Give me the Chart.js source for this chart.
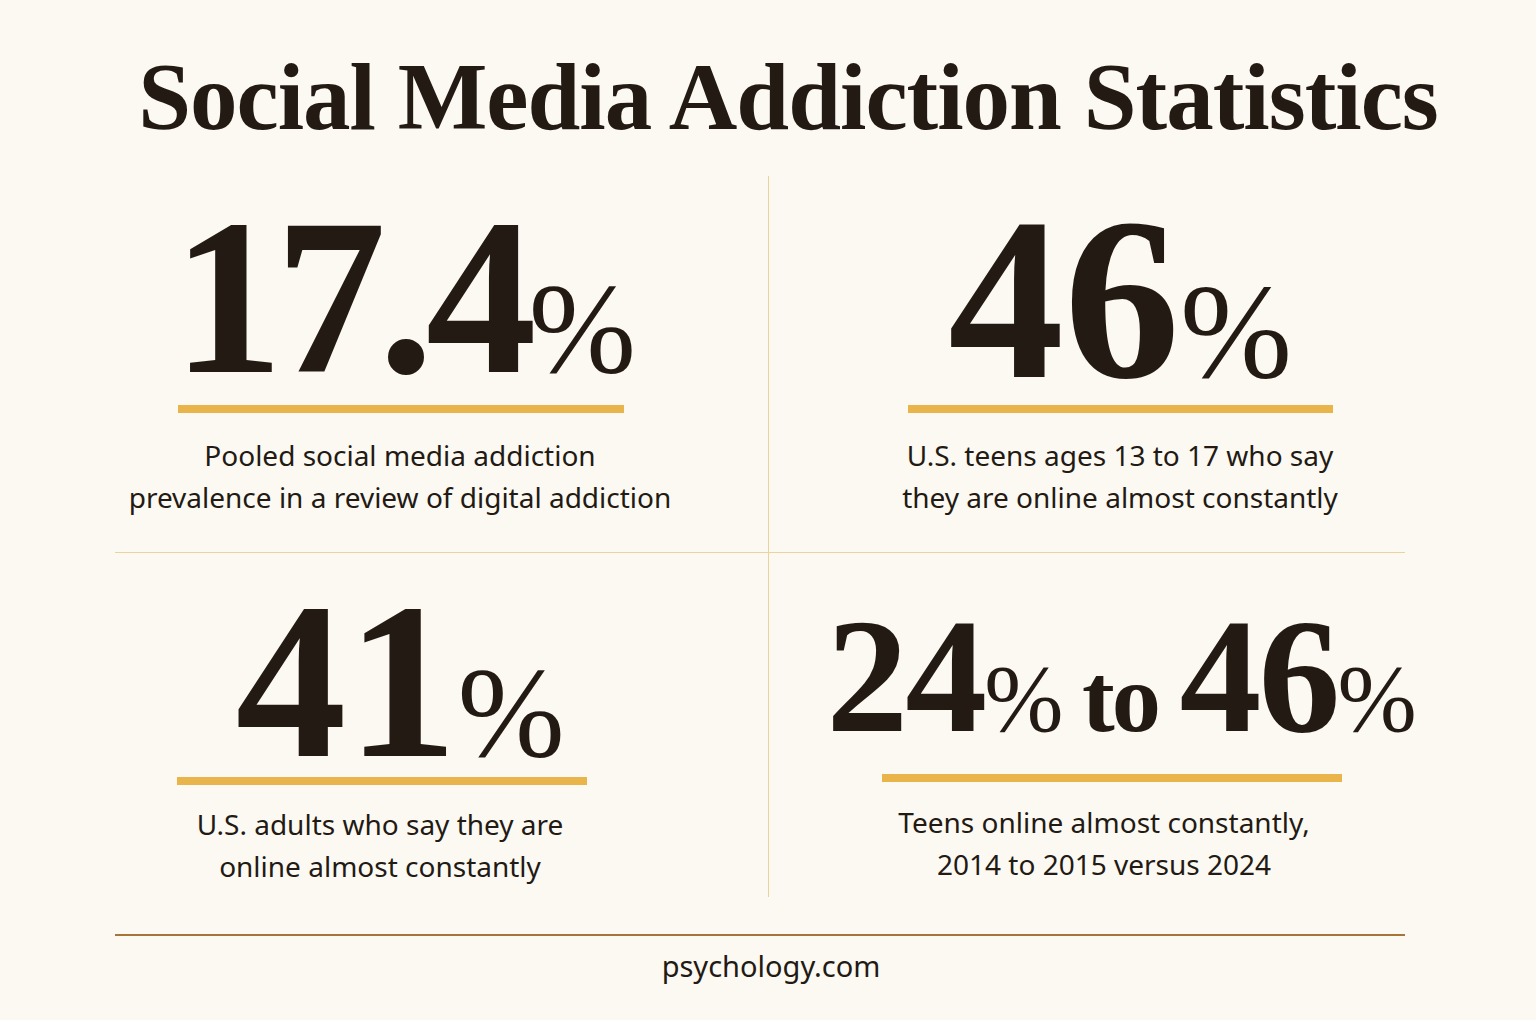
<!DOCTYPE html>
<html>
<head>
<meta charset="utf-8">
<script src="https://cdn.jsdelivr.net/npm/chart.js@4"></script>
<style>
  html, body { margin: 0; padding: 0; }
  body { width: 1536px; height: 1020px; background: #fcf9f3; position: relative; overflow: hidden; color: #231a14; }
  .title { position: absolute; left: 0; width: 1576px; top: 42px; text-align: center; font-family: "Liberation Serif", serif; font-weight: bold; font-size: 95px; letter-spacing: -1px; }
  .big { position: absolute; text-align: center; font-family: "Liberation Serif", serif; font-weight: bold; white-space: nowrap; line-height: 1; }
  .big small { font-size: 0.58em; font-weight: normal; }
  .cap { position: absolute; text-align: center; font-family: "Noto Sans", sans-serif; font-size: 28px; line-height: 42px; }
  .vline { position: absolute; left: 768px; top: 176px; width: 1px; height: 721px; background: #ecd39e; }
  .hline { position: absolute; left: 115px; top: 552px; width: 1290px; height: 1px; background: #ecd39e; }
  .bline { position: absolute; left: 115px; top: 934px; width: 1290px; height: 2px; background: #a8743c; }
  .foot { position: absolute; left: 0; width: 1542px; top: 946px; text-align: center; font-family: "Noto Sans", sans-serif; font-size: 29px; }
  .ul { position: absolute; height: 8px; }
</style>
</head>
<body>
<div class="title">Social Media Addiction Statistics</div>
<div class="vline"></div><div class="hline"></div><div class="bline"></div>

<div class="big" style="left:100px;width:600px;top:186px;font-size:222px;letter-spacing:-8px;">17.4<small>%</small></div>
<div class="big" style="left:820px;width:600px;top:183px;font-size:232px;">46<small>%</small></div>
<div class="big" style="left:100px;width:600px;top:570px;font-size:222px;">41<small>%</small></div>
<div class="big" style="left:770px;width:700px;top:594px;font-size:164px;letter-spacing:-3px;">24<small>%</small><small style="font-weight:bold;font-size:0.6em"> to </small>46<small>%</small></div>

<div class="ul" style="left:178px;top:405px;width:446px;"><canvas id="u0"></canvas></div>
<div class="ul" style="left:908px;top:405px;width:425px;"><canvas id="u1"></canvas></div>
<div class="ul" style="left:177px;top:777px;width:410px;"><canvas id="u2"></canvas></div>
<div class="ul" style="left:882px;top:774px;width:460px;"><canvas id="u3"></canvas></div>

<div class="cap" style="left:100px;width:600px;top:434px;">Pooled social media addiction<br>prevalence in a review of digital addiction</div>
<div class="cap" style="left:820px;width:600px;top:434px;">U.S. teens ages 13 to 17 who say<br>they are online almost constantly</div>
<div class="cap" style="left:80px;width:600px;top:803px;">U.S. adults who say they are<br>online almost constantly</div>
<div class="cap" style="left:804px;width:600px;top:801px;">Teens online almost constantly,<br>2014 to 2015 versus 2024</div>

<div class="foot">psychology.com</div>

<script>
const statLabels = ['17.4%', '46%', '41%', '24% to 46%'];
const underlineValues = [100, 100, 100, 100];

statLabels.forEach((label, i) => {
  new Chart(document.getElementById('u' + i), {
    type: 'bar',
    data: {
      labels: [label],
      datasets: [{ data: [underlineValues[i]], backgroundColor: '#e9b54a', barPercentage: 1, categoryPercentage: 1 }]
    },
    options: {
      indexAxis: 'y',
      responsive: true,
      maintainAspectRatio: false,
      animation: false,
      layout: { padding: 0 },
      plugins: { legend: { display: false }, tooltip: { enabled: false } },
      scales: {
        x: { display: false, min: 0, max: 100 },
        y: { display: false }
      }
    }
  });
});
</script>
</body>
</html>
